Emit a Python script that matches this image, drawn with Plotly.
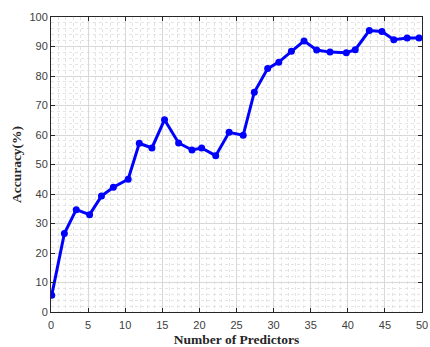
import plotly.graph_objects as go

# Number of predictors used and the resulting classification accuracy (%)
predictors = [0.1, 1.8, 3.4, 5.2, 6.8, 8.4, 10.4, 11.9, 13.6, 15.3, 17.2, 19.0,
              20.3, 22.2, 24.0, 25.9, 27.4, 29.2, 30.7, 32.4, 34.1, 35.8, 37.6,
              39.8, 41.0, 42.9, 44.6, 46.2, 48.0, 49.6]
accuracy = [5.7, 26.6, 34.7, 33.0, 39.3, 42.3, 45.0, 57.2, 55.6, 65.2, 57.3, 54.9,
            55.6, 53.0, 60.9, 59.9, 74.5, 82.5, 84.7, 88.4, 91.9, 88.8, 88.1,
            87.9, 88.9, 95.4, 95.1, 92.3, 92.9, 92.9]

x_ticks = [0, 5, 10, 15, 20, 25, 30, 35, 40, 45, 50]
y_ticks = [0, 10, 20, 30, 40, 50, 60, 70, 80, 90, 100]

fig = go.Figure()
fig.add_trace(go.Scatter(
    x=predictors, y=accuracy, mode="lines+markers",
    line=dict(color="#0000ff", width=3),
    marker=dict(color="#0000ff", size=7),
    showlegend=False,
))

tick_font = dict(family="Liberation Sans, Arial, sans-serif", size=11, color="#404040")
title_font = dict(family="Liberation Serif, Times New Roman, serif", size=13.5, color="#262626")

axis_common = dict(
    showline=True, linecolor="#262626", linewidth=1, mirror="ticks",
    ticks="inside", ticklen=4, tickcolor="#262626",
    showgrid=True, gridcolor="#d8d8d8", gridwidth=1,
    zeroline=False, tickfont=tick_font, automargin=False,
)

fig.update_xaxes(
    range=[0, 50], tickvals=x_ticks, ticktext=[str(v) for v in x_ticks],
    ticklabeloverflow="allow", ticklabelstandoff=3,
    title=dict(text="<b>Number of Predictors</b>", font=title_font, standoff=4),
    minor=dict(dtick=1, showgrid=True, gridcolor="#e4e4e4", griddash="dot", gridwidth=1),
    **axis_common,
)
fig.update_yaxes(
    range=[0, 100], tickvals=y_ticks, ticktext=[str(v) for v in y_ticks],
    title=dict(text="<b>Accuracy(%)</b>", font=title_font, standoff=4),
    minor=dict(dtick=2, showgrid=True, gridcolor="#e4e4e4", griddash="dot", gridwidth=1),
    **axis_common,
)

fig.update_layout(
    width=430, height=347,
    margin=dict(l=51, r=8, t=17, b=35),
    paper_bgcolor="white", plot_bgcolor="white",
)

fig.write_html("out.html")
